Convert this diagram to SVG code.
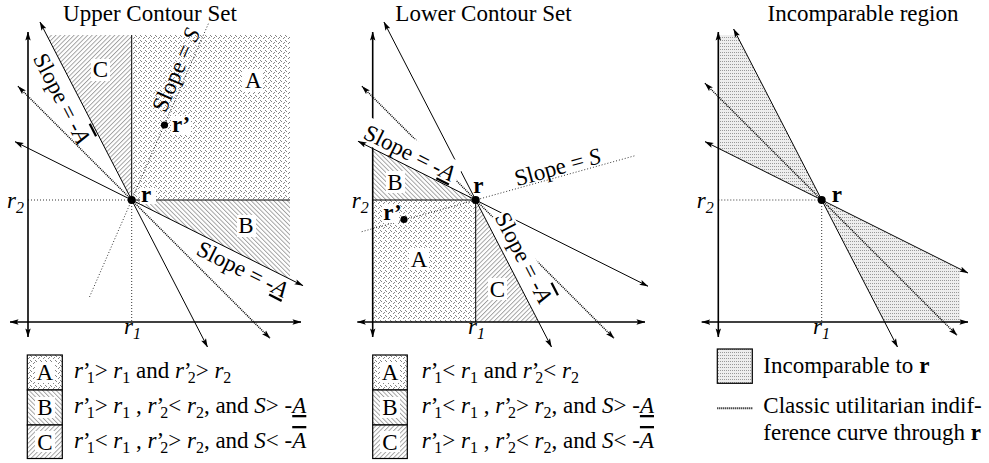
<svg xmlns="http://www.w3.org/2000/svg" width="989" height="463" viewBox="0 0 989 463">
<style>
text{font-family:"Liberation Serif","Times New Roman",serif;font-size:23px;fill:#000}
.i{font-style:italic}
.b{font-weight:bold}
.sub{font-size:16px}
.mid{text-anchor:middle}
.ax{stroke:#000;stroke-width:1.6;fill:none}
.ln{stroke:#000;stroke-width:1;fill:none}
.ut{stroke:#000;stroke-width:1.5;stroke-dasharray:1 1;fill:none}
.dt{stroke:#000;stroke-width:0.8;stroke-dasharray:1 2;fill:none}
.bx{stroke:#000;stroke-width:1.2}
.wb{fill:#fff}
.ov{text-decoration:overline}
.un{text-decoration:underline}
</style>
<defs>
<marker id="ah" viewBox="0 0 10 10" refX="9.5" refY="5" markerWidth="9" markerHeight="9" markerUnits="userSpaceOnUse" orient="auto-start-reverse">
<path d="M0,2 L10,5 L0,8 L2,5 z" fill="#000"/>
</marker>
<pattern id="pA" width="5" height="5" patternUnits="userSpaceOnUse">
<rect width="5" height="5" fill="#fff"/>
<path d="M0,0 l2,2 M3,4 l2,-2" stroke="#777" stroke-width="0.9"/>
</pattern>
<pattern id="pB" width="3.2" height="3.2" patternUnits="userSpaceOnUse" patternTransform="rotate(-45)">
<rect width="3.2" height="3.2" fill="#fff"/>
<line x1="0.5" y1="0" x2="0.5" y2="3.2" stroke="#888" stroke-width="0.75"/>
</pattern>
<pattern id="pC" width="3.2" height="3.2" patternUnits="userSpaceOnUse" patternTransform="rotate(45)">
<rect width="3.2" height="3.2" fill="#fff"/>
<line x1="0.5" y1="0" x2="0.5" y2="3.2" stroke="#888" stroke-width="0.75"/>
</pattern>
<pattern id="pD" width="2" height="3" patternUnits="userSpaceOnUse">
<rect width="2" height="3" fill="#eee"/>
<rect x="0" y="1" width="1" height="1" fill="#999"/>
</pattern>
</defs>
<rect width="989" height="463" fill="#fff"/>

<!-- ================= Panel 1: Upper Contour Set ================= -->
<g id="panel-upper">
<text class="mid" x="150" y="21">Upper Contour Set</text>
<g id="upper-regions">
<rect x="131.7" y="35" width="158.3" height="165" fill="url(#pA)"/>
<polygon points="131.7,200 290,200 290,279.2" fill="url(#pB)"/>
<polygon points="131.7,200 131.7,35 46.6,35" fill="url(#pC)"/>
</g>
</g>
<g id="upper-connectors">
<path class="dt" d="M28,200 H131.7 M131.7,200 V322"/>
<path class="dt" d="M89.5,297 L209.1,22"/>
<path class="ut" d="M18,86.3 L270,338.3" marker-start="url(#ah)" marker-end="url(#ah)"/>
<path class="ln" d="M131.7,200 V35 M131.7,200 H290"/>
<path class="ln" d="M39.95,22 L207.5,347" marker-start="url(#ah)" marker-end="url(#ah)"/>
<path class="ln" d="M15,141.65 L303,285.65" marker-start="url(#ah)" marker-end="url(#ah)"/>
<path class="ax" d="M28,337 V32" marker-start="url(#ah)" marker-end="url(#ah)"/>
<path class="ax" d="M10,322 H301" marker-start="url(#ah)" marker-end="url(#ah)"/>
</g>
<g id="upper-labels">
<rect class="wb" x="91" y="59" width="19" height="22"/>
<text class="mid" x="100.5" y="77.3">C</text>
<rect class="wb" x="243" y="70" width="20" height="22"/>
<text class="mid" x="253.3" y="88.3">A</text>
<rect class="wb" x="237" y="215" width="19" height="22"/>
<text class="mid" x="246" y="233">B</text>
<circle cx="131.7" cy="200" r="4"/>
<rect class="wb" x="140" y="188" width="16" height="16"/>
<text class="b" x="141" y="202">r</text>
<circle cx="164.5" cy="125" r="3.6"/>
<rect class="wb" x="171" y="116" width="20" height="18"/>
<text class="b" x="172" y="131.7">r’</text>
<text class="i" x="7" y="208">r<tspan class="sub" dy="5">2</tspan></text>
<text class="i" x="124" y="334">r<tspan class="sub" dy="5">1</tspan></text>
<text class="mid" transform="translate(55,102) rotate(62.7)">Slope = -<tspan class="i ov">A</tspan></text>
<text class="mid" transform="translate(183,73) rotate(-66.5)">Slope = <tspan class="i">S</tspan></text>
<text class="mid" transform="translate(239,276) rotate(26.6)">Slope = -<tspan class="i un">A</tspan></text>
</g>
<g id="upper-legend">
<rect class="bx" x="27.3" y="355" width="35" height="35" fill="url(#pA)"/>
<rect class="bx" x="27.3" y="390" width="35" height="35" fill="url(#pB)"/>
<rect class="bx" x="27.3" y="425" width="35" height="33.5" fill="url(#pC)"/>
<rect class="wb" x="35" y="362" width="20" height="21"/>
<rect class="wb" x="35" y="397" width="20" height="21"/>
<rect class="wb" x="35" y="431" width="20" height="21"/>
<text class="mid" x="44.8" y="380">A</text>
<text class="mid" x="44.8" y="415">B</text>
<text class="mid" x="44.8" y="449.5">C</text>
<text x="74" y="378"><tspan class="i">r</tspan><tspan>’</tspan><tspan class="sub" dx="-4" dy="5">1</tspan><tspan dy="-5">&gt; </tspan><tspan class="i">r</tspan><tspan class="sub" dy="5">1</tspan><tspan dy="-5"> and </tspan><tspan class="i">r</tspan><tspan>’</tspan><tspan class="sub" dx="-4" dy="5">2</tspan><tspan dy="-5">&gt; </tspan><tspan class="i">r</tspan><tspan class="sub" dy="5">2</tspan></text>
<text x="74" y="413"><tspan class="i">r</tspan><tspan>’</tspan><tspan class="sub" dx="-4" dy="5">1</tspan><tspan dy="-5">&gt; </tspan><tspan class="i">r</tspan><tspan class="sub" dy="5">1</tspan><tspan dy="-5"> , </tspan><tspan class="i">r</tspan><tspan>’</tspan><tspan class="sub" dx="-4" dy="5">2</tspan><tspan dy="-5">&lt; </tspan><tspan class="i">r</tspan><tspan class="sub" dy="5">2</tspan><tspan dy="-5">, and </tspan><tspan class="i">S</tspan><tspan>&gt; -</tspan><tspan class="i un">A</tspan></text>
<text x="74" y="448"><tspan class="i">r</tspan><tspan>’</tspan><tspan class="sub" dx="-4" dy="5">1</tspan><tspan dy="-5">&lt; </tspan><tspan class="i">r</tspan><tspan class="sub" dy="5">1</tspan><tspan dy="-5"> , </tspan><tspan class="i">r</tspan><tspan>’</tspan><tspan class="sub" dx="-4" dy="5">2</tspan><tspan dy="-5">&gt; </tspan><tspan class="i">r</tspan><tspan class="sub" dy="5">2</tspan><tspan dy="-5">, and </tspan><tspan class="i">S</tspan><tspan>&lt; -</tspan><tspan class="i ov">A</tspan></text>
</g>

<!-- ================= Panel 2: Lower Contour Set ================= -->
<g id="panel-lower">
<text class="mid" x="483.5" y="21">Lower Contour Set</text>
<g id="lower-regions">
<rect x="372.7" y="200" width="103" height="122" fill="url(#pA)"/>
<polygon points="372.7,148.5 475.7,200 372.7,200" fill="url(#pB)"/>
<polygon points="475.7,200 475.7,322 538.6,322" fill="url(#pC)"/>
</g>
</g>
<g id="lower-connectors">
<path class="dt" d="M361.7,231.7 L635,155.7"/>
<path class="ut" d="M362,86.3 L614,338.3" marker-start="url(#ah)" marker-end="url(#ah)"/>
<path class="ln" d="M372.7,200 H475.7 V322"/>
<path class="ln" d="M383.95,22 L551.5,347" marker-start="url(#ah)" marker-end="url(#ah)"/>
<path class="ax" d="M372.7,337 V32" marker-start="url(#ah)" marker-end="url(#ah)"/>
<path class="ax" d="M357.3,322 H645" marker-start="url(#ah)" marker-end="url(#ah)"/>
</g>
<g id="lower-labels">
<g transform="translate(406.2,159.7) rotate(26.6)">
<rect class="wb" x="-52" y="-22" width="106" height="26"/>
<text class="mid">Slope = -<tspan class="i un">A</tspan></text>
</g>
<path class="ln" d="M358,141.2 L648,286.2" marker-start="url(#ah)" marker-end="url(#ah)"/>
<text class="mid" transform="translate(559.5,174.5) rotate(-15.5)">Slope = <tspan class="i">S</tspan></text>
<g transform="translate(516.8,261) rotate(62.7)">
<rect class="wb" x="-50" y="-18" width="100" height="22"/>
<text class="mid">Slope = -<tspan class="i ov">A</tspan></text>
</g>
<rect class="wb" x="386" y="171" width="19" height="22"/>
<text class="mid" x="395" y="190">B</text>
<rect class="wb" x="409" y="248" width="20" height="22"/>
<text class="mid" x="419" y="266.7">A</text>
<rect class="wb" x="488" y="278" width="19" height="22"/>
<text class="mid" x="497.5" y="296.7">C</text>
<circle cx="475.7" cy="200" r="4"/>
<text class="b" x="473.3" y="193.3">r</text>
<circle cx="404" cy="219.5" r="3.6"/>
<rect class="wb" x="382" y="205" width="17" height="18"/>
<text class="b" x="383.3" y="220">r’</text>
<text class="i" x="351.7" y="208">r<tspan class="sub" dy="5">2</tspan></text>
<text class="i" x="468" y="334">r<tspan class="sub" dy="5">1</tspan></text>
</g>
<g id="lower-legend">
<rect class="bx" x="372.7" y="355" width="34.6" height="35" fill="url(#pA)"/>
<rect class="bx" x="372.7" y="390" width="34.6" height="35" fill="url(#pB)"/>
<rect class="bx" x="372.7" y="425" width="34.6" height="33.5" fill="url(#pC)"/>
<rect class="wb" x="380" y="362" width="20" height="21"/>
<rect class="wb" x="380" y="397" width="20" height="21"/>
<rect class="wb" x="380" y="431" width="20" height="21"/>
<text class="mid" x="390" y="380">A</text>
<text class="mid" x="390" y="415">B</text>
<text class="mid" x="390" y="449.5">C</text>
<text x="421.7" y="378"><tspan class="i">r</tspan><tspan>’</tspan><tspan class="sub" dx="-4" dy="5">1</tspan><tspan dy="-5">&lt; </tspan><tspan class="i">r</tspan><tspan class="sub" dy="5">1</tspan><tspan dy="-5"> and </tspan><tspan class="i">r</tspan><tspan>’</tspan><tspan class="sub" dx="-4" dy="5">2</tspan><tspan dy="-5">&lt; </tspan><tspan class="i">r</tspan><tspan class="sub" dy="5">2</tspan></text>
<text x="421.7" y="413"><tspan class="i">r</tspan><tspan>’</tspan><tspan class="sub" dx="-4" dy="5">1</tspan><tspan dy="-5">&lt; </tspan><tspan class="i">r</tspan><tspan class="sub" dy="5">1</tspan><tspan dy="-5"> , </tspan><tspan class="i">r</tspan><tspan>’</tspan><tspan class="sub" dx="-4" dy="5">2</tspan><tspan dy="-5">&gt; </tspan><tspan class="i">r</tspan><tspan class="sub" dy="5">2</tspan><tspan dy="-5">, and </tspan><tspan class="i">S</tspan><tspan>&gt; -</tspan><tspan class="i un">A</tspan></text>
<text x="421.7" y="448"><tspan class="i">r</tspan><tspan>’</tspan><tspan class="sub" dx="-4" dy="5">1</tspan><tspan dy="-5">&gt; </tspan><tspan class="i">r</tspan><tspan class="sub" dy="5">1</tspan><tspan dy="-5"> , </tspan><tspan class="i">r</tspan><tspan>’</tspan><tspan class="sub" dx="-4" dy="5">2</tspan><tspan dy="-5">&lt; </tspan><tspan class="i">r</tspan><tspan class="sub" dy="5">2</tspan><tspan dy="-5">, and </tspan><tspan class="i">S</tspan><tspan>&lt; -</tspan><tspan class="i ov">A</tspan></text>
</g>

<!-- ================= Panel 3: Incomparable region ================= -->
<g id="panel-incomparable">
<text class="mid" x="863" y="21">Incomparable region</text>
<g id="incomparable-regions">
<polygon points="718.3,35 736.6,35 821.7,200 718.3,148.3" fill="url(#pD)"/>
<polygon points="821.7,200 960,269.2 960,322 884.6,322" fill="url(#pD)"/>
</g>
</g>
<g id="incomparable-connectors">
<path class="dt" d="M718.3,200 H821.7 M821.7,200 V322"/>
<path class="ut" d="M705,83.3 L957,335.3" marker-start="url(#ah)" marker-end="url(#ah)"/>
<path class="ln" d="M733.6,29 L897.5,347" marker-start="url(#ah)" marker-end="url(#ah)"/>
<path class="ln" d="M705,141.6 L968,273" marker-start="url(#ah)" marker-end="url(#ah)"/>
<path class="ax" d="M718.3,337 V32" marker-start="url(#ah)" marker-end="url(#ah)"/>
<path class="ax" d="M701.7,322 H968" marker-start="url(#ah)" marker-end="url(#ah)"/>
</g>
<g id="incomparable-labels">
<circle cx="821.7" cy="200" r="4"/>
<text class="b" x="831.7" y="201.7">r</text>
<text class="i" x="696.7" y="208">r<tspan class="sub" dy="5">2</tspan></text>
<text class="i" x="813" y="334">r<tspan class="sub" dy="5">1</tspan></text>
</g>
<g id="incomparable-legend">
<rect class="bx" x="717.3" y="349" width="35" height="34.3" fill="url(#pD)"/>
<text x="763.3" y="372.7">Incomparable to <tspan class="b">r</tspan></text>
<path d="M717.3,408.3 H752.3" stroke="#000" stroke-width="2" stroke-dasharray="1 1"/>
<text x="763.3" y="413.3">Classic utilitarian indif-</text>
<text x="763.3" y="440">ference curve through <tspan class="b">r</tspan></text>
</g>
</svg>
